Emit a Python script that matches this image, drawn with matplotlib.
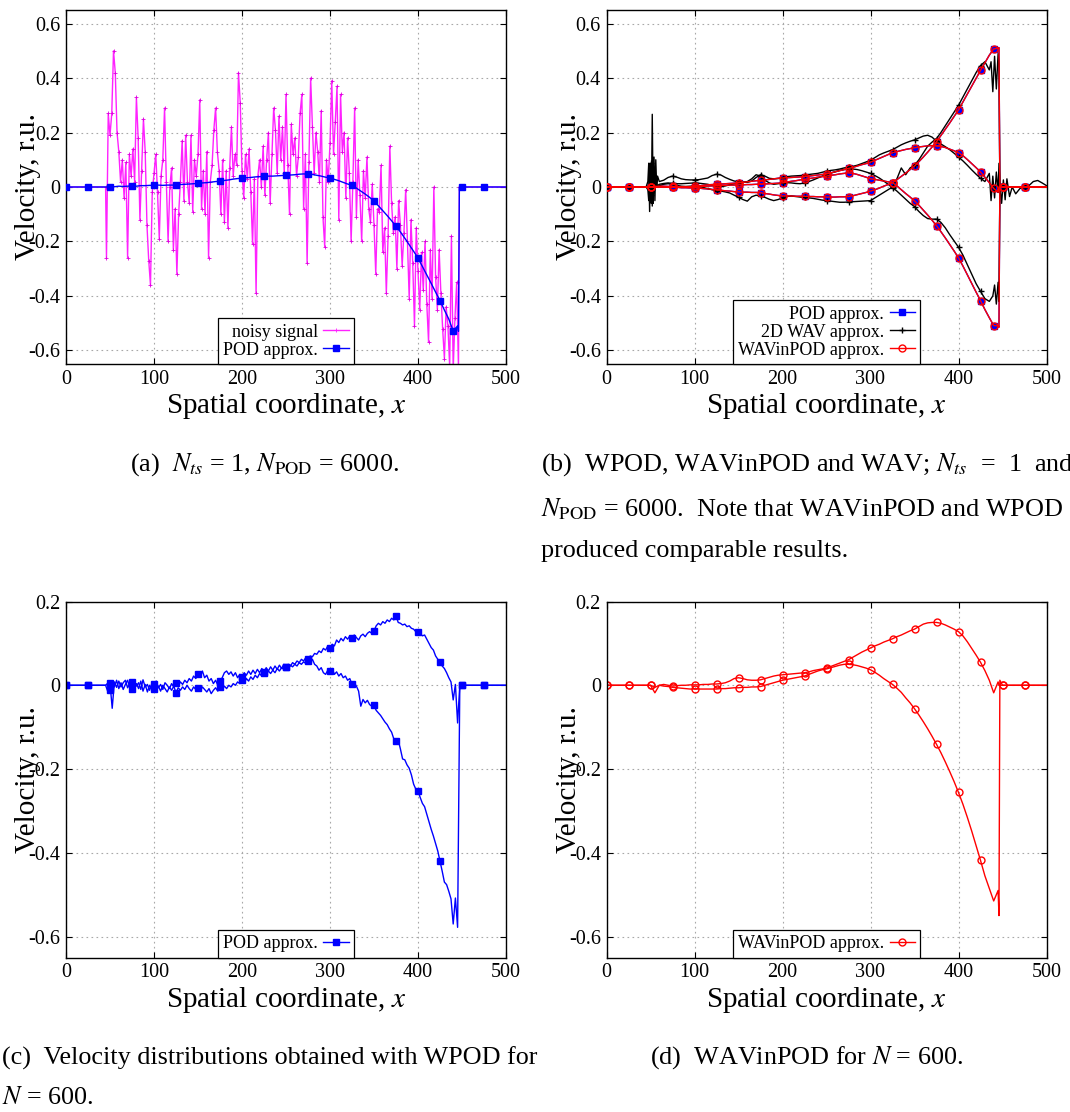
import numpy as np
import matplotlib
matplotlib.use('Agg')
import matplotlib.pyplot as plt
from matplotlib.lines import Line2D

plt.rcParams['font.family'] = ['Liberation Serif', 'DejaVu Serif']
plt.rcParams['mathtext.fontset'] = 'stix'
plt.rcParams['axes.unicode_minus'] = False

# ---------------- data ----------------
# (a) noisy signal, sampled every 2 units starting at x = 46
noisy_x0, noisy_dx = 46, 2
noisy_vals = [
    -0.26, 0.27, 0.19, 0.27, 0.50, 0.42, 0.20, 0.13, 0.02, 0.10,
    -0.04, 0.09, -0.26, 0.12, 0.04, 0.14, 0.02, 0.33, 0.18, -0.12,
    0.06, 0.25, 0.13, -0.14, -0.27, -0.36, -0.02, 0.05, 0.12, -0.02,
    -0.19, 0.04, 0.10, 0.29, 0.02, -0.20, 0.00, 0.07, -0.23, -0.08,
    -0.32, -0.10, 0.02, 0.17, -0.05, 0.19, 0.02, -0.06, 0.19, -0.09,
    0.10, 0.04, 0.12, 0.32, -0.08, 0.06, -0.10, 0.13, -0.26, 0.02,
    0.08, 0.21, 0.29, 0.13, 0.06, -0.10, 0.10, -0.13, 0.06, -0.15,
    0.07, 0.22, 0.04, 0.12, 0.08, 0.42, 0.31, 0.06, -0.04, 0.12,
    0.03, 0.14, -0.02, -0.21, 0.03, -0.39, 0.04, 0.10, 0.00, 0.15,
    -0.03, 0.10, 0.20, -0.06, 0.12, 0.29, 0.21, 0.05, 0.26, 0.10,
    0.22, 0.05, 0.34, 0.08, -0.10, 0.23, 0.12, 0.18, 0.04, 0.11,
    0.27, 0.34, -0.08, 0.12, -0.28, 0.09, 0.40, 0.22, 0.05, 0.20,
    0.13, 0.02, 0.28, -0.11, -0.22, 0.10, 0.02, 0.16, 0.39, 0.12,
    0.24, 0.37, -0.12, 0.34, 0.13, 0.20, -0.04, 0.18, 0.05, -0.20,
    0.02, 0.29, -0.11, 0.10, -0.03, -0.20, 0.06, -0.04, 0.11, -0.08,
    -0.13, 0.01, -0.14, -0.32, -0.08, -0.09, 0.08, -0.24, -0.15, -0.39,
    -0.18, 0.15, -0.06, -0.17, -0.11, -0.30, -0.05, -0.14, -0.29, -0.17,
    -0.01, -0.20, -0.41, -0.12, -0.28, -0.51, -0.15, -0.31, -0.45, -0.24,
    -0.38, -0.20, -0.43, -0.57, -0.23, -0.41, 0.00, -0.33, -0.45, -0.23,
    -0.39, -0.52, -0.63, -0.44, -0.51, -0.66, -0.18, -0.67, -0.48, -0.35,
    -0.67,
]

# smooth curves share one grid: 0..445 every 5, then 446, 447, 450..500 every 5
xs = np.concatenate([np.arange(0, 446, 5), [446, 447], np.arange(450, 501, 5)])
zeros_head = [0.0] * 10   # x = 0..45
zeros_tail = [0.0] * 11   # x = 450..500

# (a) POD approx, x = 50..445, 446, 447
pod_a = [
    0.000, 0.001, 0.003, 0.002, 0.003, 0.004, 0.003, 0.005, 0.005, 0.006,
    0.006, 0.007, 0.006, 0.007, 0.007, 0.007, 0.009, 0.010, 0.011, 0.012,
    0.013, 0.015, 0.016, 0.018, 0.020, 0.021, 0.024, 0.026, 0.029, 0.031,
    0.032, 0.034, 0.035, 0.037, 0.038, 0.039, 0.040, 0.040, 0.041, 0.042,
    0.043, 0.044, 0.045, 0.047, 0.048, 0.047, 0.046, 0.043, 0.040, 0.036,
    0.033, 0.028, 0.023, 0.017, 0.011, 0.006, -0.004, -0.015, -0.026, -0.038,
    -0.052, -0.069, -0.087, -0.105, -0.124, -0.144, -0.165, -0.188, -0.212, -0.236,
    -0.261, -0.292, -0.323, -0.354, -0.386, -0.417, -0.452, -0.485, -0.529, -0.510,
    -0.530, 0.0,
]

# (b) POD / WAVinPOD, three velocity profiles
prof_b1 = [
    0.000, 0.002, 0.003, 0.003, 0.002, 0.002, 0.002, 0.001, 0.001, 0.001,
    0.002, 0.004, 0.006, 0.008, 0.009, 0.010, 0.011, 0.012, 0.013, 0.014,
    0.015, 0.017, 0.019, 0.021, 0.023, 0.024, 0.026, 0.028, 0.030, 0.032,
    0.033, 0.034, 0.035, 0.036, 0.037, 0.038, 0.040, 0.042, 0.044, 0.046,
    0.048, 0.052, 0.056, 0.060, 0.064, 0.068, 0.072, 0.077, 0.082, 0.086,
    0.091, 0.098, 0.105, 0.112, 0.119, 0.126, 0.130, 0.134, 0.138, 0.141,
    0.144, 0.147, 0.149, 0.151, 0.152, 0.151, 0.149, 0.145, 0.139, 0.133,
    0.126, 0.115, 0.101, 0.086, 0.071, 0.055, 0.036, 0.016, -0.005, -0.020,
    0.0, 0.0,
]
prof_b2 = [
    0.000, -0.001, 0.000, 0.001, 0.000, 0.000, -0.001, -0.002, -0.002, -0.002,
    -0.002, 0.000, 0.002, 0.003, 0.004, 0.005, 0.006, 0.006, 0.007, 0.007,
    0.008, 0.008, 0.009, 0.009, 0.010, 0.010, 0.011, 0.012, 0.013, 0.014,
    0.015, 0.018, 0.021, 0.023, 0.026, 0.028, 0.031, 0.033, 0.036, 0.038,
    0.040, 0.043, 0.045, 0.048, 0.050, 0.052, 0.050, 0.046, 0.041, 0.036,
    0.030, 0.028, 0.025, 0.022, 0.019, 0.016, 0.004, -0.010, -0.024, -0.037,
    -0.051, -0.067, -0.085, -0.103, -0.122, -0.142, -0.164, -0.187, -0.211, -0.235,
    -0.260, -0.290, -0.322, -0.354, -0.386, -0.417, -0.450, -0.480, -0.509, -0.510,
    -0.515, 0.0,
]
prof_b3 = [
    0.000, 0.000, 0.000, -0.001, -0.001, -0.001, -0.001, -0.002, -0.002, -0.003,
    -0.003, -0.004, -0.006, -0.007, -0.009, -0.010, -0.012, -0.014, -0.015, -0.017,
    -0.018, -0.019, -0.019, -0.020, -0.020, -0.021, -0.024, -0.026, -0.029, -0.031,
    -0.033, -0.033, -0.033, -0.034, -0.034, -0.034, -0.035, -0.035, -0.036, -0.036,
    -0.037, -0.037, -0.037, -0.036, -0.036, -0.035, -0.032, -0.028, -0.024, -0.020,
    -0.015, -0.010, -0.004, 0.003, 0.009, 0.016, 0.027, 0.039, 0.051, 0.064,
    0.077, 0.093, 0.110, 0.128, 0.147, 0.166, 0.189, 0.212, 0.235, 0.259,
    0.283, 0.312, 0.341, 0.370, 0.399, 0.428, 0.456, 0.484, 0.507, 0.510,
    0.512, 0.0,
]

# (b) 2D WAV approx, own grid
wav_x = ([0, 25, 45, 47, 48, 49, 50, 51, 52, 53, 54, 55, 56, 57, 58, 60]
         + list(range(65, 436, 5))
         + [437, 439, 441, 443, 445, 446, 447, 449, 451, 453, 455, 458, 461,
            465, 470, 475, 480, 485, 490, 495, 500])
wav_1 = ([0, 0, 0, 0.02, 0.087, -0.09, 0.087, -0.06, 0.267, -0.06, 0.11, -0.05, 0.10, 0.0, 0.04, 0.02]
         + [0.025, 0.035, 0.040, 0.036, 0.030, 0.027, 0.026, 0.026, 0.027, 0.030,
            0.033, 0.042, 0.047, 0.044, 0.035, 0.028, 0.022, 0.020, 0.018, 0.017,
            0.022, 0.035, 0.045, 0.040, 0.032, 0.030, 0.031, 0.034, 0.038, 0.040,
            0.041, 0.042, 0.044, 0.046, 0.048, 0.050, 0.054, 0.058, 0.061, 0.063,
            0.066, 0.070, 0.073, 0.076, 0.080, 0.086, 0.092, 0.098, 0.108, 0.118,
            0.125, 0.131, 0.137, 0.146, 0.155, 0.162, 0.168, 0.173, 0.180, 0.187,
            0.190, 0.183, 0.168, 0.158, 0.148, 0.137, 0.124, 0.110, 0.096, 0.080,
            0.063, 0.047, 0.032, 0.020, 0.050]
         + [-0.05, 0.04, -0.04, 0.055, -0.02, 0.087, 0.01, -0.06, 0.026, -0.047, 0.03,
            -0.035, 0.0, -0.025, -0.005, 0.0, 0.005, 0.02, 0.024, 0.015, 0.005])
wav_2 = ([0, 0, 0, 0.0, 0.01, -0.02, 0.03, -0.01, 0.02, -0.02, 0.01, 0.0, 0.01, 0.0, 0.005, 0.01]
         + [0.013, 0.015, 0.013, 0.012, 0.012, 0.013, 0.014, 0.015, 0.014, 0.012,
            0.010, 0.006, 0.003, 0.001, 0.004, 0.008, 0.012, 0.014, 0.016, 0.020,
            0.030, 0.045, 0.040, 0.025, 0.015, 0.010, 0.012, 0.015, 0.016, 0.015,
            0.013, 0.012, 0.015, 0.020, 0.026, 0.033, 0.040, 0.045, 0.051, 0.056,
            0.061, 0.064, 0.066, 0.066, 0.064, 0.060, 0.055, 0.050, 0.042, 0.033,
            0.022, 0.010, -0.002, -0.015, -0.030, -0.045, -0.060, -0.072, -0.090, -0.105,
            -0.116, -0.118, -0.118, -0.130, -0.150, -0.175, -0.198, -0.221, -0.250, -0.285,
            -0.320, -0.355, -0.383, -0.410, -0.420]
         + [-0.41, -0.40, -0.36, -0.43, -0.35, -0.42, -0.01, 0.01]
         + [0.0] * 13)
wav_3 = ([0, 0, 0, -0.01, -0.05, 0.06, -0.03, 0.04, -0.07, 0.05, -0.02, 0.03, 0.0, 0.01, 0.0, 0.005]
         + [0.010, 0.012, 0.010, 0.006, 0.003, 0.002, 0.003, 0.004, 0.002, -0.002,
            -0.006, -0.010, -0.013, -0.015, -0.018, -0.022, -0.030, -0.038, -0.046, -0.052,
            -0.036, -0.030, -0.034, -0.038, -0.045, -0.050, -0.046, -0.040, -0.035, -0.033,
            -0.035, -0.037, -0.038, -0.040, -0.042, -0.045, -0.048, -0.050, -0.052, -0.054,
            -0.056, -0.056, -0.055, -0.054, -0.053, -0.052, -0.051, -0.050, -0.040, -0.030,
            -0.020, -0.010, 0.000, 0.030, 0.070, 0.045, 0.070, 0.080, 0.100, 0.125,
            0.150, 0.165, 0.178, 0.200, 0.225, 0.250, 0.275, 0.300, 0.330, 0.360,
            0.390, 0.420, 0.446, 0.460, 0.430]
         + [0.46, 0.35, 0.48, 0.36, 0.49, 0.45, 0.0]
         + [0.0] * 14)

# (c) WPOD, N = 600: two profiles, every 2.5 units from 47.5 to 445
wpod_1 = [
    -0.015, 0.005, -0.055, 0.008, -0.005, 0.010, -0.004, 0.006, 0.012, -0.006,
    0.004, -0.008, 0.010, -0.002, 0.006, -0.010, 0.013, -0.004, 0.002, -0.012,
    0.004, -0.008, 0.010, -0.006, 0.002, -0.010, 0.006, 0.000, -0.008, 0.004,
    -0.004, 0.006, -0.002, 0.008, 0.002, 0.012, 0.006, 0.016, 0.010, 0.022,
    0.016, 0.028, 0.020, 0.034, 0.018, 0.024, 0.010, 0.016, 0.004, 0.012,
    0.000, 0.010, 0.018, 0.030, 0.034, 0.026, 0.032, 0.022, 0.030, 0.018,
    0.026, 0.020, 0.030, 0.024, 0.034, 0.026, 0.036, 0.028, 0.038, 0.030,
    0.040, 0.032, 0.042, 0.034, 0.044, 0.036, 0.046, 0.038, 0.048, 0.040,
    0.050, 0.044, 0.050, 0.046, 0.054, 0.050, 0.058, 0.054, 0.062, 0.058,
    0.066, 0.062, 0.070, 0.068, 0.076, 0.074, 0.082, 0.078, 0.088, 0.084,
    0.094, 0.090, 0.098, 0.094, 0.108, 0.102, 0.112, 0.106, 0.116, 0.110,
    0.118, 0.112, 0.120, 0.114, 0.108, 0.118, 0.122, 0.116, 0.124, 0.128,
    0.124, 0.130, 0.142, 0.148, 0.144, 0.152, 0.148, 0.156, 0.152, 0.160,
    0.156, 0.166, 0.150, 0.148, 0.144, 0.146, 0.140, 0.142, 0.136, 0.134,
    0.128, 0.126, 0.124, 0.118, 0.120, 0.110, 0.100, 0.090, 0.084, 0.070,
    0.062, 0.055, 0.046, 0.040, 0.030, 0.018, 0.008, -0.035, 0.002, -0.090,
]
wpod_2 = [
    0.005, -0.012, 0.008, -0.004, 0.012, -0.008, 0.006, -0.010, 0.002, 0.012,
    -0.006, 0.008, -0.012, 0.004, -0.008, 0.010, -0.014, 0.002, -0.016, 0.000,
    -0.010, 0.004, -0.012, -0.002, -0.014, 0.000, -0.008, -0.016, -0.004, -0.012,
    -0.002, -0.018, -0.006, -0.012, -0.004, -0.010, 0.000, -0.008, -0.014, -0.004,
    -0.010, -0.006, -0.014, -0.004, -0.010, -0.016, -0.008, -0.020, -0.012, -0.006,
    -0.014, -0.004, -0.010, -0.002, -0.008, 0.000, -0.004, 0.004, 0.000, 0.008,
    0.004, 0.012, 0.006, 0.016, 0.010, 0.020, 0.014, 0.024, 0.018, 0.028,
    0.022, 0.030, 0.026, 0.034, 0.028, 0.036, 0.030, 0.040, 0.034, 0.042,
    0.038, 0.044, 0.040, 0.048, 0.044, 0.050, 0.046, 0.054, 0.050, 0.056,
    0.052, 0.058, 0.054, 0.062, 0.050, 0.046, 0.036, 0.042, 0.030, 0.026,
    0.036, 0.034, 0.040, 0.026, 0.032, 0.022, 0.028, 0.018, 0.022, 0.012,
    0.016, 0.002, 0.006, -0.002, -0.014, -0.050, -0.034, -0.042, -0.036, -0.046,
    -0.050, -0.048, -0.060, -0.066, -0.072, -0.080, -0.088, -0.094, -0.104, -0.112,
    -0.128, -0.134, -0.130, -0.152, -0.176, -0.178, -0.190, -0.198, -0.214, -0.236,
    -0.248, -0.252, -0.268, -0.282, -0.290, -0.308, -0.326, -0.344, -0.360, -0.378,
    -0.396, -0.420, -0.444, -0.470, -0.476, -0.492, -0.510, -0.570, -0.508, -0.578,
]
xc = np.arange(0, 500.1, 2.5)

# (d) WAVinPOD, N = 600
wip_1 = [
    0.000, -0.018, 0.000, 0.002, 0.000, -0.002, -0.001, 0.000, 0.000, 0.001,
    0.001, 0.001, 0.002, 0.002, 0.003, 0.003, 0.004, 0.006, 0.010, 0.016,
    0.018, 0.016, 0.013, 0.012, 0.012, 0.013, 0.016, 0.019, 0.022, 0.024,
    0.025, 0.026, 0.027, 0.028, 0.029, 0.030, 0.032, 0.035, 0.037, 0.039,
    0.041, 0.045, 0.049, 0.053, 0.057, 0.061, 0.067, 0.073, 0.079, 0.084,
    0.089, 0.094, 0.098, 0.103, 0.107, 0.111, 0.116, 0.120, 0.125, 0.130,
    0.134, 0.140, 0.146, 0.149, 0.150, 0.150, 0.148, 0.144, 0.139, 0.134,
    0.128, 0.118, 0.104, 0.088, 0.072, 0.055, 0.035, 0.012, -0.018, 0.008,
    0.0, 0.0,
]
wip_2 = [
    0.000, -0.005, 0.000, -0.002, -0.003, -0.005, -0.006, -0.007, -0.008, -0.009,
    -0.009, -0.009, -0.009, -0.009, -0.009, -0.009, -0.008, -0.008, -0.007, -0.006,
    -0.006, -0.005, -0.005, -0.004, -0.004, -0.003, 0.000, 0.003, 0.006, 0.009,
    0.012, 0.014, 0.016, 0.018, 0.020, 0.022, 0.026, 0.030, 0.034, 0.037,
    0.039, 0.042, 0.045, 0.048, 0.050, 0.050, 0.049, 0.047, 0.044, 0.041,
    0.037, 0.031, 0.024, 0.016, 0.009, 0.002, -0.007, -0.017, -0.030, -0.042,
    -0.056, -0.071, -0.087, -0.104, -0.122, -0.141, -0.161, -0.183, -0.206, -0.230,
    -0.256, -0.284, -0.315, -0.348, -0.383, -0.418, -0.455, -0.485, -0.515, -0.490,
    -0.550, 0.012,
]

x_ticks = [0, 100, 200, 300, 400, 500]
y_ticks_top = [-0.6, -0.4, -0.2, 0, 0.2, 0.4, 0.6]
y_ticks_bot = [-0.6, -0.4, -0.2, 0, 0.2]
marks_ab = [0, 25, 50, 75, 100, 125, 150, 175, 200, 225, 250, 275, 300,
            325, 350, 375, 400, 425, 440, 450, 475]
marks_cd = [0, 25, 50, 75, 100, 125, 150, 175, 200, 225, 250, 275, 300,
            325, 350, 375, 400, 425, 450, 475]


def full(vals):
    return np.array(zeros_head + vals + zeros_tail)


def setup(ax, ylim, yticks):
    ax.set_xlim(0, 500)
    ax.set_ylim(*ylim)
    ax.set_xticks(x_ticks)
    ax.set_xticklabels([str(v) for v in x_ticks])
    ax.set_yticks(yticks)
    ax.set_yticklabels(['0' if v == 0 else f'{v:.1f}' for v in yticks])
    ax.grid(True, color='#a8a8a8', ls=(0, (1.5, 3)), lw=0.8)
    ax.set_axisbelow(True)
    ax.tick_params(direction='in', length=4, width=0.8, top=True, right=True,
                   labelsize=14.5, pad=4)
    for s in ax.spines.values():
        s.set_linewidth(1.0)
    ax.set_xlabel('Spatial coordinate, $x$', fontsize=21)
    ax.set_ylabel('Velocity, r.u.', fontsize=21)
    ax.xaxis.set_label_coords(0.5, -0.12)
    ax.xaxis.label.set_va('center')
    ax.yaxis.set_label_coords(-0.086, 0.5)
    ax.yaxis.label.set_va('center')


def curve(ax, x, y, color, marker, marks, ms, mfc=None, lw=1.0, zorder=2):
    x = np.asarray(x, dtype=float)
    y = np.asarray(y, dtype=float)
    ax.plot(x, y, color=color, lw=lw, zorder=zorder)
    idx = np.isin(x, marks)
    ax.plot(x[idx], y[idx], ls='none', marker=marker, ms=ms, color=color,
            mfc=mfc if mfc else color, mew=1.0, zorder=zorder + 0.5)


def legend(ax, handles, labels):
    leg = ax.legend(handles, labels, loc='lower center', bbox_to_anchor=(0.5, 0.0),
                    borderaxespad=0.0, markerfirst=False, numpoints=1, fontsize=13,
                    handlelength=1.4, handletextpad=0.3, borderpad=0.3,
                    labelspacing=0.05, fancybox=False, framealpha=1.0,
                    edgecolor='black')
    leg.get_frame().set_linewidth(0.9)


def proxy(color, marker, ms, mfc=None):
    return Line2D([], [], color=color, lw=1.0, marker=marker, ms=ms,
                  mfc=mfc if mfc else color, mew=1.0)


fig = plt.figure(figsize=(10.7, 11.12), dpi=100)
W, H = 1070.0, 1112.0
ax_a = fig.add_axes([66 / W, 1 - 364 / H, 440 / W, 354 / H])
ax_b = fig.add_axes([606.5 / W, 1 - 364 / H, 440 / W, 354 / H])
ax_c = fig.add_axes([66 / W, 1 - 957.5 / H, 440 / W, 356 / H])
ax_d = fig.add_axes([606.5 / W, 1 - 957.5 / H, 440 / W, 356 / H])

# (a)
nx = noisy_x0 + noisy_dx * np.arange(len(noisy_vals))
ax_a.plot(np.r_[0, 45, nx, 447, 500], np.r_[0, 0, noisy_vals, 0, 0],
          color='#ff22ff', lw=1.0, marker='+', ms=2.5, mew=0.6, mec='#e000e0')
curve(ax_a, xs, full(pod_a), '#0000ff', 's', marks_ab, 4.2, zorder=3)
setup(ax_a, (-0.65, 0.65), y_ticks_top)
legend(ax_a, [Line2D([], [], color='#ff22ff', lw=1.0, marker='+', ms=3, mew=0.6),
              proxy('#0000ff', 's', 4.2)],
       ['noisy signal', 'POD approx.'])

# (b)
for prof in (prof_b1, prof_b2, prof_b3):
    curve(ax_b, xs, full(prof), '#0000ff', 's', marks_ab, 4.2, zorder=2)
for w in (wav_1, wav_2, wav_3):
    curve(ax_b, wav_x, w, 'black', '+', marks_ab, 5, zorder=3)
for prof in (prof_b1, prof_b2, prof_b3):
    curve(ax_b, xs, full(prof), '#ff0000', 'o', marks_ab, 5, mfc='none', zorder=4)
setup(ax_b, (-0.65, 0.65), y_ticks_top)
legend(ax_b, [proxy('#0000ff', 's', 4.2), proxy('black', '+', 5),
              proxy('#ff0000', 'o', 5, mfc='none')],
       ['POD approx.', '2D WAV approx.', 'WAVinPOD approx.'])

# (c)
for prof in (wpod_1, wpod_2):
    yc = np.array([0.0] * 19 + prof + [0.0] * 22)
    curve(ax_c, xc, yc, '#0000ff', 's', marks_cd, 4.2)
setup(ax_c, (-0.65, 0.2), y_ticks_bot)
legend(ax_c, [proxy('#0000ff', 's', 4.2)], ['POD approx.'])

# (d)
for prof in (wip_1, wip_2):
    curve(ax_d, xs, full(prof), '#ff0000', 'o', marks_cd, 5, mfc='none')
setup(ax_d, (-0.65, 0.2), y_ticks_bot)
legend(ax_d, [proxy('#ff0000', 'o', 5, mfc='none')], ['WAVinPOD approx.'])

# captions
cap = dict(fontsize=18.8, va='center', ha='left')
fig.text(130 / W, 1 - 465 / H, r'(a)  $N_{ts}$ = 1, $N_{\mathrm{POD}}$ = 6000.', **cap)
fig.text(541 / W, 1 - 465 / H, r'(b)  WPOD, WAVinPOD and WAV; $N_{ts}$  =  1  and', **cap)
fig.text(541 / W, 1 - 509 / H, r'$N_{\mathrm{POD}}$ = 6000.  Note that WAVinPOD and WPOD', **cap)
fig.text(541 / W, 1 - 551 / H, 'produced comparable results.', **cap)
fig.text(2 / W, 1 - 1058 / H, '(c)  Velocity distributions obtained with WPOD for', **cap)
fig.text(2 / W, 1 - 1098 / H, r'$N$ = 600.', **cap)
fig.text(650 / W, 1 - 1058 / H, r'(d)  WAVinPOD for $N$ = 600.', **cap)

fig.savefig('out.png', dpi=100)
